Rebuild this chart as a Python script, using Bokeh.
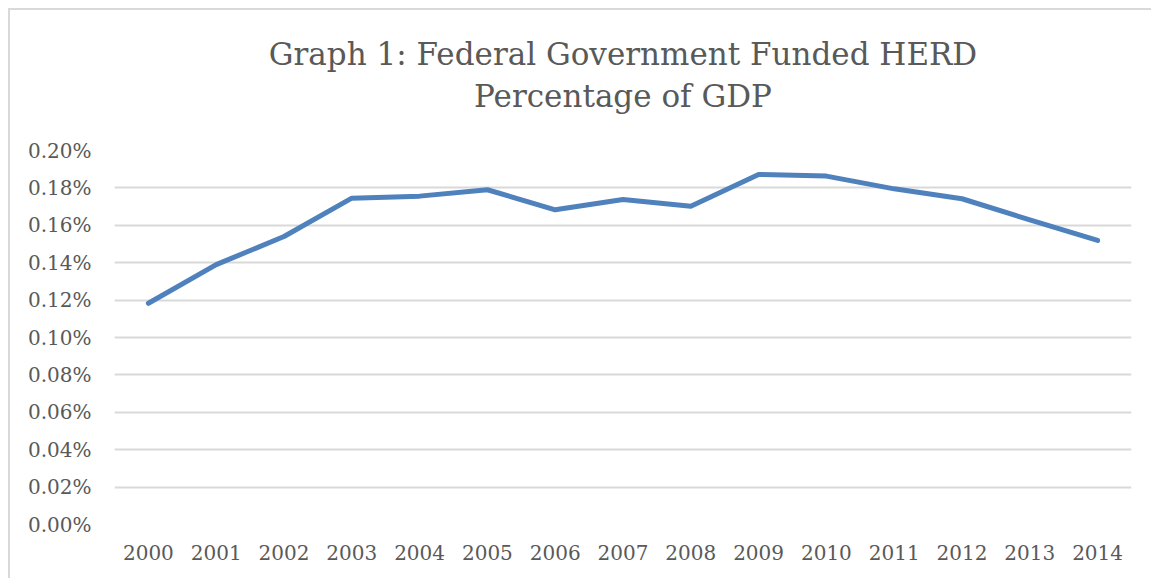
from bokeh.plotting import figure
from bokeh.models import FactorRange, Range1d, FixedTicker, PrintfTickFormatter, Title
from bokeh.embed import file_html
from bokeh.resources import INLINE

years = ["2000", "2001", "2002", "2003", "2004", "2005", "2006", "2007",
         "2008", "2009", "2010", "2011", "2012", "2013", "2014"]
pct_gdp = [0.1183, 0.1390, 0.1540, 0.1745, 0.1756, 0.1790, 0.1683, 0.1738,
           0.1702, 0.1872, 0.1863, 0.1795, 0.1742, 0.1629, 0.1519]
y_ticks = [0.00, 0.02, 0.04, 0.06, 0.08, 0.10, 0.12, 0.14, 0.16, 0.18, 0.20]

TXT = "#595959"
FONT = "DejaVu Serif"

p = figure(width=1143, height=570, x_range=FactorRange(*years),
           y_range=Range1d(0, 0.20), output_backend="svg", toolbar_location=None,
           min_border_left=104, min_border_right=22, min_border_top=140,
           min_border_bottom=56)
p.title = None
# spacer between frame and title lines
p.add_layout(Title(text=" ", text_font_size="1px", standoff=30), "above")
p.add_layout(Title(text="Percentage of GDP", align="center", text_font=FONT,
                   text_font_size="31px", text_font_style="normal",
                   text_color=TXT, standoff=8), "above")
p.add_layout(Title(text="Graph 1: Federal Government Funded HERD", align="center",
                   text_font=FONT, text_font_size="31px", text_font_style="normal",
                   text_color=TXT, standoff=0), "above")

p.line(x=years, y=pct_gdp, line_color="#4f81bd", line_width=5,
       line_cap="round", line_join="round")

p.outline_line_color = None
p.xgrid.grid_line_color = None
p.ygrid.grid_line_color = "#d9d9d9"
p.ygrid.grid_line_width = 2
p.yaxis.ticker = FixedTicker(ticks=y_ticks)
p.yaxis.formatter = PrintfTickFormatter(format="%.2f%%")
for ax in (p.xaxis, p.yaxis):
    ax.axis_line_color = None
    ax.major_tick_line_color = None
    ax.minor_tick_line_color = None
    ax.major_label_text_font = FONT
    ax.major_label_text_font_size = "20px"
    ax.major_label_text_color = TXT
p.yaxis.major_label_standoff = 17
p.xaxis.major_label_standoff = 14
p.styles = {"margin-left": "8px", "margin-top": "8px",
            "border-left": "2px solid #d9d9d9", "border-top": "2px solid #d9d9d9"}

open("out.html", "w").write(file_html(p, INLINE))
